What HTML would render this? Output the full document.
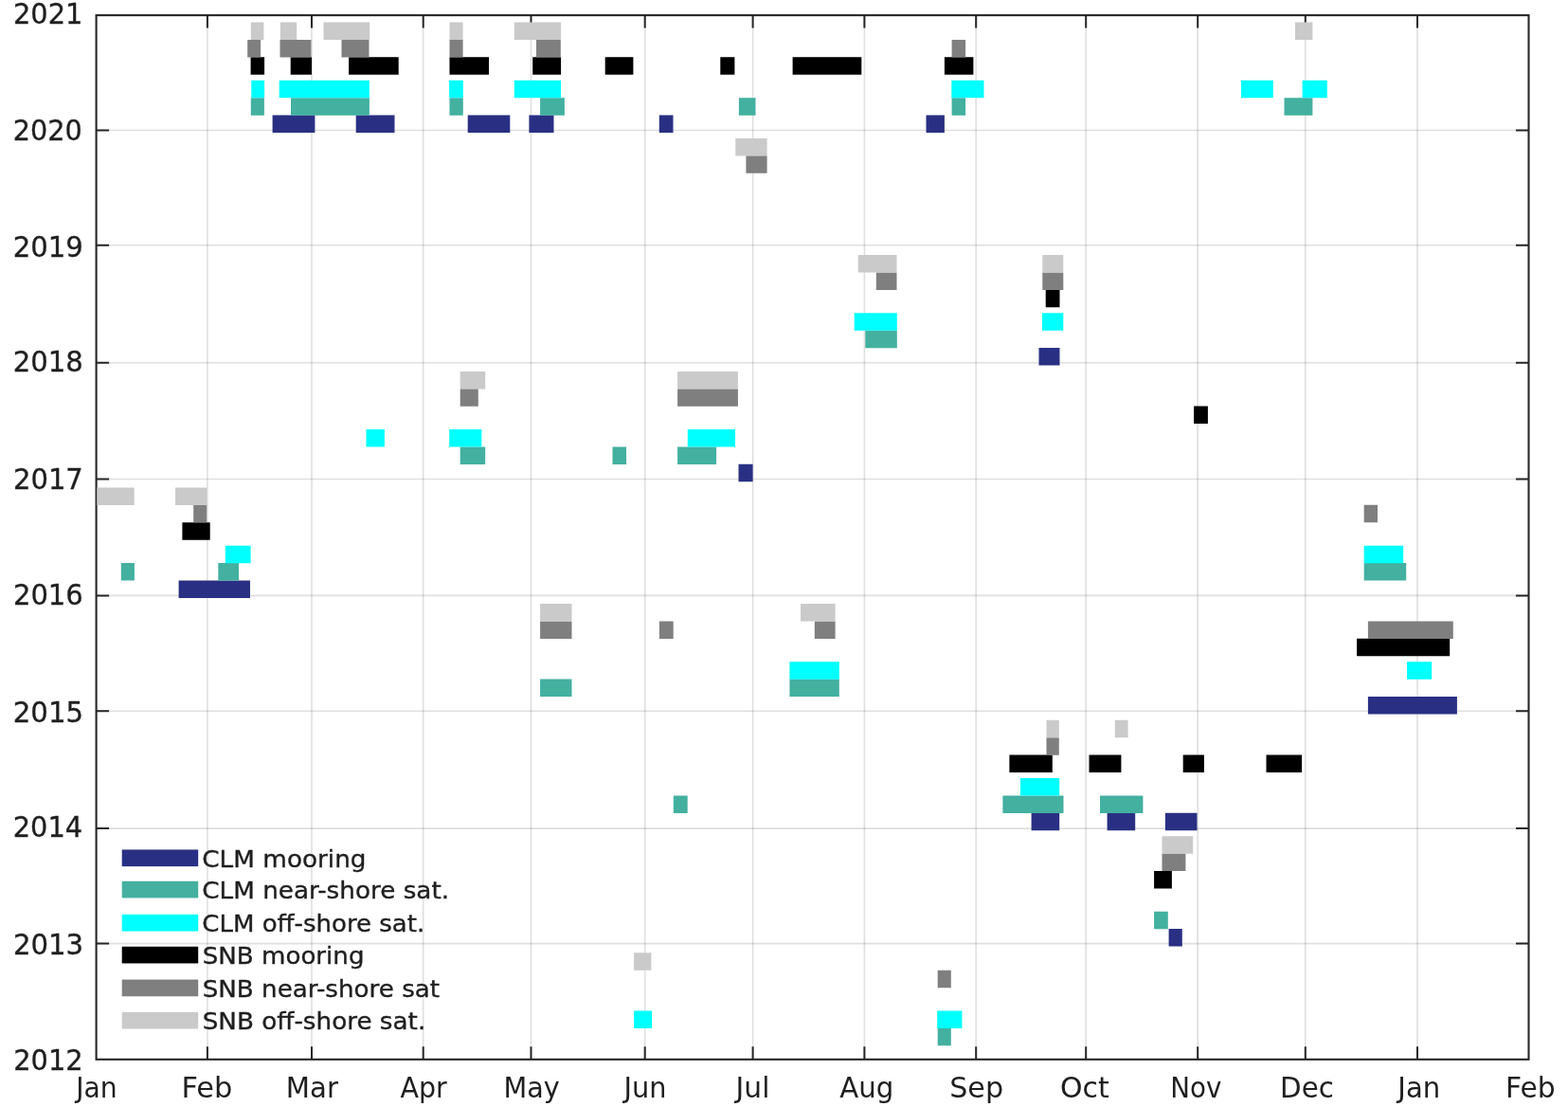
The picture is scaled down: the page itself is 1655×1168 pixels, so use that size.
<!DOCTYPE html>
<html><head><meta charset="utf-8"><title>Data coverage chart</title>
<style>html,body{margin:0;padding:0;background:#fff;overflow:hidden;}svg{display:block;}text{font-family:"DejaVu Sans","Liberation Sans",sans-serif;fill:#1f1f1f;}</style>
</head><body>
<svg width="1655" height="1168" viewBox="0 0 1655 1168">
<rect x="0" y="0" width="1655" height="1168" fill="#fff"/>
<path d="M218.9 16.1V1117.8M329 16.1V1117.8M446.7 16.1V1117.8M560.5 16.1V1117.8M680.7 16.1V1117.8M794.6 16.1V1117.8M912.4 16.1V1117.8M1030.2 16.1V1117.8M1146.2 16.1V1117.8M1264.2 16.1V1117.8M1377.8 16.1V1117.8M1496 16.1V1117.8" stroke="#262626" stroke-opacity="0.15" stroke-width="1.6" fill="none"/>
<path d="M101.6 137.5H1613.5M101.6 258.8H1613.5M101.6 382.8H1613.5M101.6 505.5H1613.5M101.6 628.4H1613.5M101.6 750.3H1613.5M101.6 874.1H1613.5M101.6 995.6H1613.5" stroke="#262626" stroke-opacity="0.15" stroke-width="1.6" fill="none"/>
<path d="M218.9 1117.8V1104.3M218.9 16.1V29.6M329 1117.8V1104.3M329 16.1V29.6M446.7 1117.8V1104.3M446.7 16.1V29.6M560.5 1117.8V1104.3M560.5 16.1V29.6M680.7 1117.8V1104.3M680.7 16.1V29.6M794.6 1117.8V1104.3M794.6 16.1V29.6M912.4 1117.8V1104.3M912.4 16.1V29.6M1030.2 1117.8V1104.3M1030.2 16.1V29.6M1146.2 1117.8V1104.3M1146.2 16.1V29.6M1264.2 1117.8V1104.3M1264.2 16.1V29.6M1377.8 1117.8V1104.3M1377.8 16.1V29.6M1496 1117.8V1104.3M1496 16.1V29.6M101.6 137.5H115.1M1613.5 137.5H1600M101.6 258.8H115.1M1613.5 258.8H1600M101.6 382.8H115.1M1613.5 382.8H1600M101.6 505.5H115.1M1613.5 505.5H1600M101.6 628.4H115.1M1613.5 628.4H1600M101.6 750.3H115.1M1613.5 750.3H1600M101.6 874.1H115.1M1613.5 874.1H1600M101.6 995.6H115.1M1613.5 995.6H1600" stroke="#262626" stroke-width="2" fill="none"/>
<rect x="101.6" y="16.1" width="1511.9" height="1101.7" fill="none" stroke="#262626" stroke-width="2.1"/>
<path d="M287.6 121.49H332.4V139.99H287.6ZM375.7 121.49H416.5V139.99H375.7ZM493.7 121.49H538.3V139.99H493.7ZM558.4 121.49H584.5V139.99H558.4ZM695.8 121.49H710.5V139.99H695.8ZM977.5 121.49H996.9V139.99H977.5ZM1096.5 366.99H1118.5V385.49H1096.5ZM779.5 489.82H794.6V508.32H779.5ZM188.6 612.41H264V630.91H188.6ZM1443.9 734.97H1537.9V753.47H1443.9ZM1088.6 857.77H1118.2V876.27H1088.6ZM1168.6 857.77H1198.2V876.27H1168.6ZM1229.9 857.77H1263.5V876.27H1229.9ZM1233.6 980.08H1247.8V998.58H1233.6Z" fill="#293083"/>
<path d="M264.8 103.13H278.9V121.63H264.8ZM307 103.13H389.9V121.63H307ZM474.5 103.13H488.8V121.63H474.5ZM570.1 103.13H595.9V121.63H570.1ZM779.9 103.13H797.5V121.63H779.9ZM1004.6 103.13H1019.1V121.63H1004.6ZM1355.5 103.13H1385.4V121.63H1355.5ZM913.3 348.63H946.8V367.13H913.3ZM485.7 471.46H512.2V489.96H485.7ZM646.5 471.46H661.1V489.96H646.5ZM715.1 471.46H756.1V489.96H715.1ZM127.8 594.05H141.9V612.55H127.8ZM230.3 594.05H252V612.55H230.3ZM1439.7 594.05H1484.2V612.55H1439.7ZM570.1 716.61H603.5V735.11H570.1ZM833.4 716.61H885.8V735.11H833.4ZM1058.4 839.41H1122.5V857.91H1058.4ZM1161 839.41H1206.4V857.91H1161ZM710.8 839.41H725.7V857.91H710.8ZM1218.1 961.72H1232.8V980.22H1218.1ZM989.7 1084.84H1003.8V1103.34H989.7Z" fill="#43b0a0"/>
<path d="M265.3 84.77H279.1V103.27H265.3ZM294.7 84.77H389.9V103.27H294.7ZM474.1 84.77H488.8V103.27H474.1ZM542.8 84.77H592.1V103.27H542.8ZM1004.3 84.77H1038.5V103.27H1004.3ZM1310 84.77H1343.8V103.27H1310ZM1374.6 84.77H1400.8V103.27H1374.6ZM901.7 330.27H946.8V348.77H901.7ZM1100 330.27H1122.3V348.77H1100ZM386.5 453.1H405.9V471.6H386.5ZM474.2 453.1H508.3V471.6H474.2ZM725.8 453.1H776V471.6H725.8ZM237.8 575.69H264.6V594.19H237.8ZM1439.7 575.69H1481.2V594.19H1439.7ZM833.4 698.25H885.8V716.75H833.4ZM1485 698.25H1511.2V716.75H1485ZM1077 821.05H1118.2V839.55H1077ZM669.1 1066.48H688.1V1084.98H669.1ZM989.2 1066.48H1015.4V1084.98H989.2Z" fill="#00ffff"/>
<path d="M264.6 60.29H279.1V78.79H264.6ZM306.7 60.29H329V78.79H306.7ZM368.1 60.29H420.7V78.79H368.1ZM474.5 60.29H516V78.79H474.5ZM562.2 60.29H592.1V78.79H562.2ZM638.7 60.29H668.4V78.79H638.7ZM760.3 60.29H775.4V78.79H760.3ZM836.6 60.29H909.3V78.79H836.6ZM996.9 60.29H1027.4V78.79H996.9ZM1103.7 305.79H1118.5V324.29H1103.7ZM1260.1 428.62H1274.9V447.12H1260.1ZM192.4 551.21H221.7V569.71H192.4ZM1432.1 673.77H1530.2V692.27H1432.1ZM1065.4 796.57H1110.8V815.07H1065.4ZM1149.5 796.57H1183.4V815.07H1149.5ZM1248.7 796.57H1270.9V815.07H1248.7ZM1336.5 796.57H1374.1V815.07H1336.5ZM1218.1 918.88H1236.9V937.38H1218.1Z" fill="#000000"/>
<path d="M261.2 41.93H275.1V60.43H261.2ZM295.5 41.93H328.4V60.43H295.5ZM360.5 41.93H389.5V60.43H360.5ZM474.5 41.93H488.6V60.43H474.5ZM566 41.93H591.8V60.43H566ZM1004.6 41.93H1019.1V60.43H1004.6ZM787.4 164.33H809.6V182.83H787.4ZM924.8 287.43H946.5V305.93H924.8ZM1100.3 287.43H1122.3V305.93H1100.3ZM485.7 410.26H504.8V428.76H485.7ZM715.1 410.26H778.9V428.76H715.1ZM204.2 532.85H218.2V551.35H204.2ZM1439.7 532.85H1454V551.35H1439.7ZM570.1 655.41H603.5V673.91H570.1ZM695.9 655.41H710.7V673.91H695.9ZM859.8 655.41H881.6V673.91H859.8ZM1443.9 655.41H1533.8V673.91H1443.9ZM1104.5 778.21H1117.8V796.71H1104.5ZM1226.5 900.52H1251.4V919.02H1226.5ZM989.7 1023.64H1003.8V1042.14H989.7Z" fill="#7f7f7f"/>
<path d="M264.8 23.57H278.4V42.07H264.8ZM295.8 23.57H313.2V42.07H295.8ZM341.5 23.57H390.2V42.07H341.5ZM474.5 23.57H488.6V42.07H474.5ZM542.8 23.57H592.1V42.07H542.8ZM1367 23.57H1385.4V42.07H1367ZM776.3 145.97H809.6V164.47H776.3ZM905.7 269.07H946.5V287.57H905.7ZM1100.3 269.07H1122.3V287.57H1100.3ZM485.7 391.9H512.2V410.4H485.7ZM715.1 391.9H778.9V410.4H715.1ZM102.4 514.49H141.7V532.99H102.4ZM185 514.49H218.4V532.99H185ZM570.1 637.05H603.5V655.55H570.1ZM845 637.05H881.6V655.55H845ZM1104.5 759.85H1117.8V778.35H1104.5ZM1176.8 759.85H1190.6V778.35H1176.8ZM1226.5 882.16H1259.2V900.66H1226.5ZM669.1 1005.28H687.4V1023.78H669.1Z" fill="#cacaca"/>
<rect x="128.7" y="896.45" width="80.5" height="17.7" fill="#293083"/>
<rect x="128.7" y="929.75" width="80.5" height="17.7" fill="#43b0a0"/>
<rect x="128.7" y="964.85" width="80.5" height="17.7" fill="#00ffff"/>
<rect x="128.7" y="998.75" width="80.5" height="17.7" fill="#000000"/>
<rect x="128.7" y="1033.55" width="80.5" height="17.7" fill="#7f7f7f"/>
<rect x="128.7" y="1067.85" width="80.5" height="17.7" fill="#cacaca"/>
<text x="87" y="25.2" font-size="31" text-anchor="end" stroke="#1f1f1f" stroke-width="0.35" transform="matrix(0.9318 0 0 1 6.33 0)">2021</text>
<text x="87" y="147.7" font-size="31" text-anchor="end" stroke="#1f1f1f" stroke-width="0.35" transform="matrix(0.9253 0 0 1 6.15 0)">2020</text>
<text x="87" y="270.8" font-size="31" text-anchor="end" stroke="#1f1f1f" stroke-width="0.35" transform="matrix(0.9400 0 0 1 6.10 0)">2019</text>
<text x="87" y="392.5" font-size="31" text-anchor="end" stroke="#1f1f1f" stroke-width="0.35" transform="matrix(0.9400 0 0 1 6.10 0)">2018</text>
<text x="87" y="516.3" font-size="31" text-anchor="end" stroke="#1f1f1f" stroke-width="0.35" transform="matrix(0.9365 0 0 1 6.34 0)">2017</text>
<text x="87" y="637.8" font-size="31" text-anchor="end" stroke="#1f1f1f" stroke-width="0.35" transform="matrix(0.9360 0 0 1 6.34 0)">2016</text>
<text x="87" y="761.8" font-size="31" text-anchor="end" stroke="#1f1f1f" stroke-width="0.35" transform="matrix(0.9432 0 0 1 6.07 0)">2015</text>
<text x="87" y="883.5" font-size="31" text-anchor="end" stroke="#1f1f1f" stroke-width="0.35" transform="matrix(0.9307 0 0 1 6.19 0)">2014</text>
<text x="87" y="1007.4" font-size="31" text-anchor="end" stroke="#1f1f1f" stroke-width="0.35" transform="matrix(0.9405 0 0 1 6.29 0)">2013</text>
<text x="87" y="1129" font-size="31" text-anchor="end" stroke="#1f1f1f" stroke-width="0.35" transform="matrix(0.9297 0 0 1 6.70 0)">2012</text>
<text x="101.6" y="1157.9" font-size="29.5" text-anchor="middle" transform="matrix(0.9578 0 0 1 4.65 0)">Jan</text>
<text x="218.9" y="1157.9" font-size="29.5" text-anchor="middle" transform="matrix(1.0319 0 0 1 -7.46 0)">Feb</text>
<text x="329" y="1157.9" font-size="29.5" text-anchor="middle" transform="matrix(0.9925 0 0 1 2.89 0)">Mar</text>
<text x="446.7" y="1157.9" font-size="29.5" text-anchor="middle" transform="matrix(0.9660 0 0 1 15.55 0)">Apr</text>
<text x="560.5" y="1157.9" font-size="29.5" text-anchor="middle" transform="matrix(0.9737 0 0 1 15.43 0)">May</text>
<text x="680.7" y="1157.9" font-size="29.5" text-anchor="middle" transform="matrix(0.9756 0 0 1 16.84 0)">Jun</text>
<text x="794.6" y="1157.9" font-size="29.5" text-anchor="middle" transform="matrix(1.0057 0 0 1 -4.63 0)">Jul</text>
<text x="912.4" y="1157.9" font-size="29.5" text-anchor="middle" transform="matrix(0.9907 0 0 1 10.79 0)">Aug</text>
<text x="1030.2" y="1157.9" font-size="29.5" text-anchor="middle" transform="matrix(1.0235 0 0 1 -23.75 0)">Sep</text>
<text x="1146.2" y="1157.9" font-size="29.5" text-anchor="middle" transform="matrix(1.0146 0 0 1 -18.08 0)">Oct</text>
<text x="1264.2" y="1157.9" font-size="29.5" text-anchor="middle" transform="matrix(0.9407 0 0 1 73.06 0)">Nov</text>
<text x="1377.8" y="1157.9" font-size="29.5" text-anchor="middle" transform="matrix(0.9962 0 0 1 6.90 0)">Dec</text>
<text x="1496" y="1157.9" font-size="29.5" text-anchor="middle" transform="matrix(0.9886 0 0 1 18.83 0)">Jan</text>
<text x="1613.5" y="1157.9" font-size="29.5" text-anchor="middle" transform="matrix(1.0104 0 0 1 -14.96 0)">Feb</text>
<text x="214" y="914.73" font-size="24.5" text-anchor="start" stroke="#1f1f1f" stroke-width="0.35" transform="matrix(1.0732 0 0 1 -16.42 0)">CLM mooring</text>
<text x="214" y="948.03" font-size="24.5" text-anchor="start" stroke="#1f1f1f" stroke-width="0.35" transform="matrix(1.0720 0 0 1 -16.14 0)">CLM near-shore sat.</text>
<text x="214" y="983.13" font-size="24.5" text-anchor="start" stroke="#1f1f1f" stroke-width="0.35" transform="matrix(1.0631 0 0 1 -14.24 0)">CLM off-shore sat.</text>
<text x="214" y="1017.03" font-size="24.5" text-anchor="start" stroke="#1f1f1f" stroke-width="0.35" transform="matrix(1.0660 0 0 1 -14.46 0)">SNB mooring</text>
<text x="214" y="1051.83" font-size="24.5" text-anchor="start" stroke="#1f1f1f" stroke-width="0.35" transform="matrix(1.0685 0 0 1 -15.00 0)">SNB near-shore sat</text>
<text x="214" y="1086.13" font-size="24.5" text-anchor="start" stroke="#1f1f1f" stroke-width="0.35" transform="matrix(1.0712 0 0 1 -15.57 0)">SNB off-shore sat.</text>
</svg>
</body></html>
